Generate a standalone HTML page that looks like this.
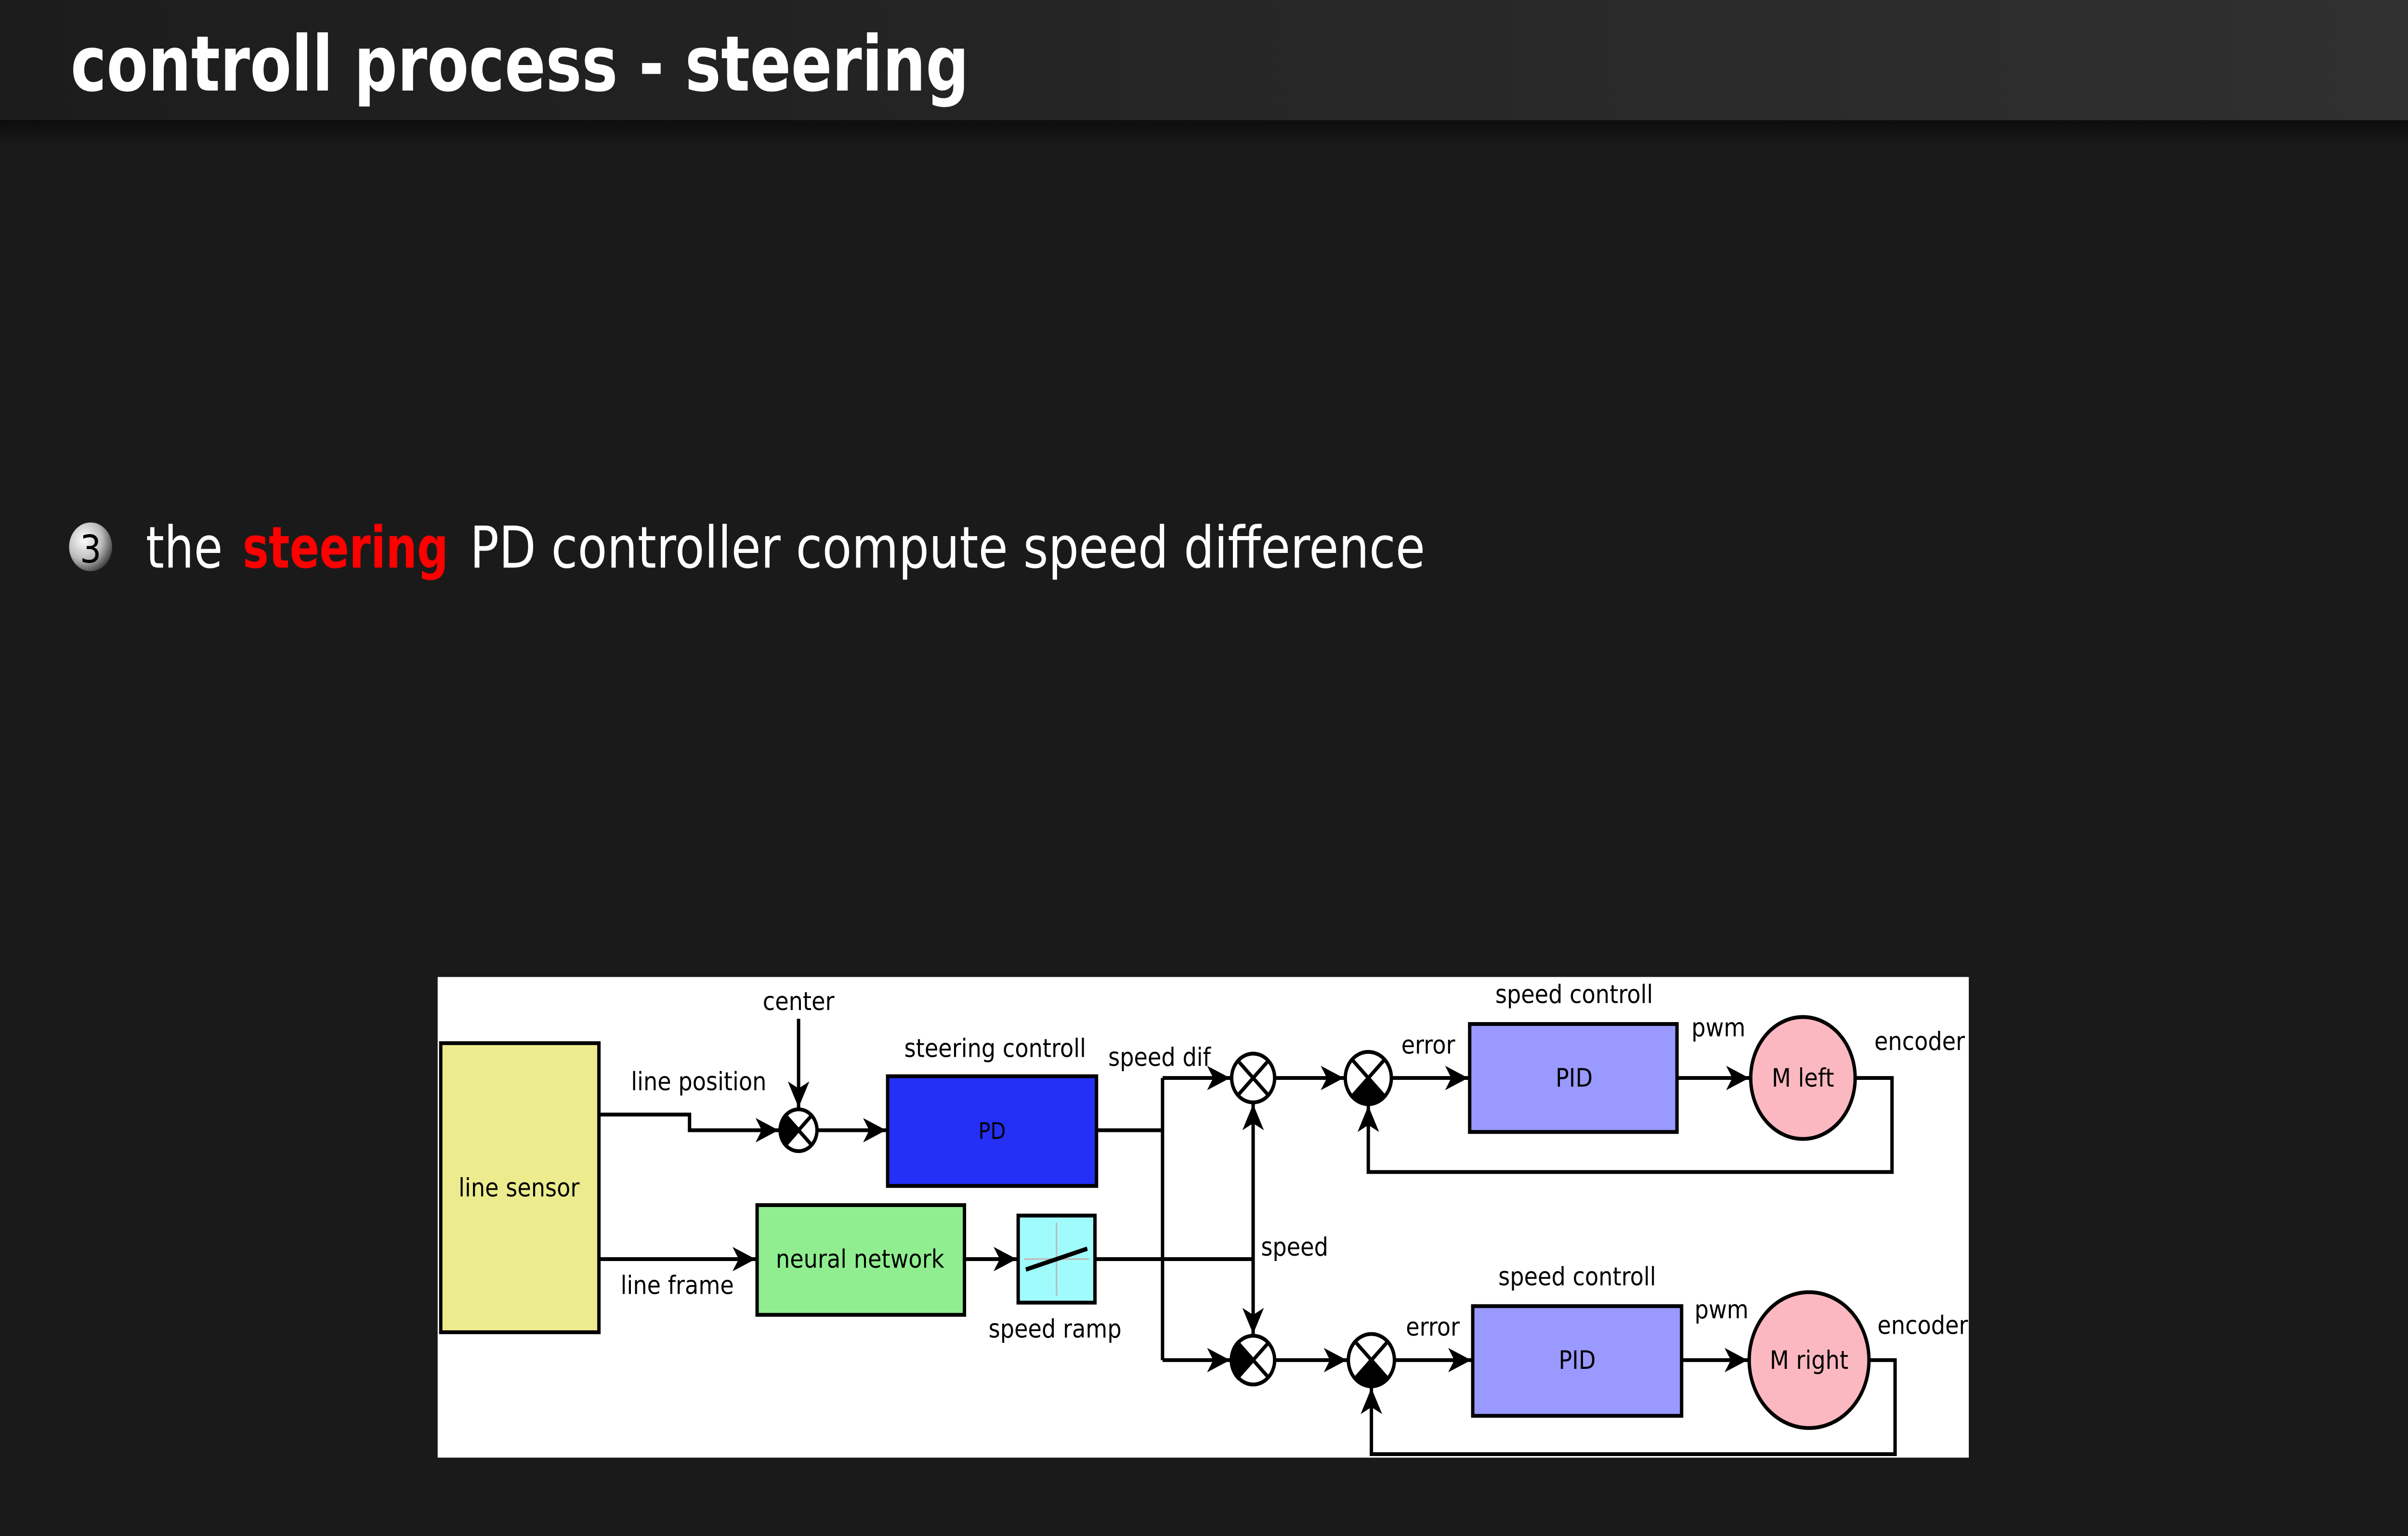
<!DOCTYPE html>
<html><head><meta charset="utf-8"><style>html,body{margin:0;padding:0;background:#1a1a1a;width:100%;height:100%;overflow:hidden;}svg{display:block;width:100vw;height:100vh;position:fixed;left:0;top:0}</style></head>
<body>
<svg xmlns="http://www.w3.org/2000/svg" viewBox="0 0 1568 882" preserveAspectRatio="none">
<defs>
<linearGradient id="tb" x1="0" x2="1" y1="0" y2="0"><stop offset="0" stop-color="#1c1c1c"/><stop offset="1" stop-color="#303030"/></linearGradient>
<linearGradient id="sh" x1="0" x2="0" y1="0" y2="1"><stop offset="0" stop-color="#0c0c0c"/><stop offset="1" stop-color="#1a1a1a"/></linearGradient>
<radialGradient id="bl" cx="0.35" cy="0.35" r="0.7"><stop offset="0" stop-color="#ffffff"/><stop offset="0.6" stop-color="#bbbbbb"/><stop offset="1" stop-color="#444"/></radialGradient>
<marker id="a" markerUnits="userSpaceOnUse" markerWidth="16" markerHeight="16" viewBox="0 0 16 16" refX="15" refY="8" orient="auto"><path d="M0,1 L15,8 L0,15 L4,8 Z" fill="#000"/></marker>
</defs>
<rect width="1568" height="882" fill="#1a1a1a"/>
<rect width="1568" height="69" fill="url(#tb)"/>
<rect y="69" width="1568" height="14" fill="url(#sh)"/>
<text x="46" y="52" font-family="DejaVu Sans, Liberation Sans, sans-serif" font-weight="bold" font-size="44" fill="#fff" textLength="585" lengthAdjust="spacingAndGlyphs">controll process - steering</text>
<circle cx="59" cy="314" r="14" fill="url(#bl)"/>
<text x="59" y="323" text-anchor="middle" font-family="DejaVu Sans, sans-serif" font-size="22" fill="#000">3</text>
<g font-family="DejaVu Sans, Liberation Sans, sans-serif" font-size="33">
<text x="95" y="326" fill="#fff" textLength="50" lengthAdjust="spacingAndGlyphs">the</text>
<text x="158" y="326" fill="#ff0000" font-weight="bold" textLength="134" lengthAdjust="spacingAndGlyphs">steering</text>
<text x="306" y="326" fill="#fff" textLength="622" lengthAdjust="spacingAndGlyphs">PD controller compute speed difference</text>
</g>
<rect x="285" y="561" width="997" height="276" fill="#fff"/>
<g stroke="#000" stroke-width="2.2" fill="none">
<rect x="287" y="599" width="103" height="166" fill="#ecec8e"/>
<rect x="578" y="618" width="136" height="63" fill="#2430f5"/>
<rect x="493" y="692" width="135" height="63" fill="#90ee90"/>
<rect x="663" y="698" width="50" height="50" fill="#a0fcfc"/>
<rect x="957" y="588" width="135" height="62" fill="#9999ff"/>
<rect x="959" y="750" width="136" height="63" fill="#9999ff"/>
<ellipse cx="1174" cy="619" rx="34" ry="35" fill="#fbb8c0"/>
<ellipse cx="1178" cy="781" rx="39" ry="39" fill="#fbb8c0"/>
<polyline points="390,640 449,640 449,649 507,649" marker-end="url(#a)"/>
<line x1="520" y1="585" x2="520" y2="636" marker-end="url(#a)"/>
<line x1="533" y1="649" x2="577" y2="649" marker-end="url(#a)"/>
<line x1="390" y1="723" x2="492" y2="723" marker-end="url(#a)"/>
<line x1="628" y1="723" x2="662" y2="723" marker-end="url(#a)"/>
<polyline points="714,649 757,649"/>
<polyline points="757,619 757,781"/>
<line x1="757" y1="619" x2="801" y2="619" marker-end="url(#a)"/>
<line x1="757" y1="781" x2="801" y2="781" marker-end="url(#a)"/>
<line x1="713" y1="723" x2="816" y2="723"/>
<line x1="816" y1="723" x2="816" y2="634" marker-end="url(#a)"/>
<line x1="816" y1="723" x2="816" y2="766" marker-end="url(#a)"/>
<line x1="831" y1="619" x2="875" y2="619" marker-end="url(#a)"/>
<line x1="906" y1="619" x2="956" y2="619" marker-end="url(#a)"/>
<line x1="1092" y1="619" x2="1139" y2="619" marker-end="url(#a)"/>
<polyline points="1208,619 1232,619 1232,673 891,673 891,635" marker-end="url(#a)"/>
<line x1="831" y1="781" x2="877" y2="781" marker-end="url(#a)"/>
<line x1="908" y1="781" x2="958" y2="781" marker-end="url(#a)"/>
<line x1="1095" y1="781" x2="1138" y2="781" marker-end="url(#a)"/>
<polyline points="1217,781 1234,781 1234,835 893,835 893,797" marker-end="url(#a)"/>
</g>
<line x1="688" y1="702" x2="688" y2="744" stroke="#bbb" stroke-width="1"/>
<line x1="667" y1="723" x2="709" y2="723" stroke="#bbb" stroke-width="1"/>
<line x1="668" y1="729" x2="708" y2="717" stroke="#000" stroke-width="2.5"/>
<g stroke="#000" stroke-width="2.2">
<g transform="translate(520,649)"><circle r="12" fill="#fff"/><path d="M0,0 L-8.5,-8.5 A12,12 0 0 0 -8.5,8.5 Z" fill="#000"/><path d="M-8.5,-8.5 L8.5,8.5 M8.5,-8.5 L-8.5,8.5"/></g>
<g transform="translate(816,619)"><circle r="14" fill="#fff"/><path d="M-10,-10 L10,10 M10,-10 L-10,10"/></g>
<g transform="translate(891,619)"><circle r="15" fill="#fff"/><path d="M0,0 L-10.6,10.6 A15,15 0 0 0 10.6,10.6 Z" fill="#000"/><path d="M-10.6,-10.6 L10.6,10.6 M10.6,-10.6 L-10.6,10.6"/></g>
<g transform="translate(816,781)"><circle r="14" fill="#fff"/><path d="M0,0 L-10,-10 A14,14 0 0 0 -10,10 Z" fill="#000"/><path d="M-10,-10 L10,10 M10,-10 L-10,10"/></g>
<g transform="translate(893,781)"><circle r="15" fill="#fff"/><path d="M0,0 L-10.6,10.6 A15,15 0 0 0 10.6,10.6 Z" fill="#000"/><path d="M-10.6,-10.6 L10.6,10.6 M10.6,-10.6 L-10.6,10.6"/></g>
</g>
<g font-family="DejaVu Sans, Liberation Sans, sans-serif" font-size="14.5" fill="#000" text-anchor="middle">
<text x="338" y="687">line sensor</text>
<text x="455" y="626">line position</text>
<text x="520" y="580">center</text>
<text x="648" y="607">steering controll</text>
<text x="646" y="654" font-size="13">PD</text>
<text x="755" y="612">speed dif</text>
<text x="560" y="728">neural network</text>
<text x="441" y="743">line frame</text>
<text x="687" y="768">speed ramp</text>
<text x="843" y="721">speed</text>
<text x="930" y="605">error</text>
<text x="1025" y="576">speed controll</text>
<text x="1025" y="624">PID</text>
<text x="1119" y="595">pwm</text>
<text x="1250" y="603">encoder</text>
<text x="1174" y="624">M left</text>
<text x="933" y="767">error</text>
<text x="1027" y="738">speed controll</text>
<text x="1027" y="786">PID</text>
<text x="1121" y="757">pwm</text>
<text x="1252" y="766">encoder</text>
<text x="1178" y="786">M right</text>
</g>
</svg>
</body></html>
